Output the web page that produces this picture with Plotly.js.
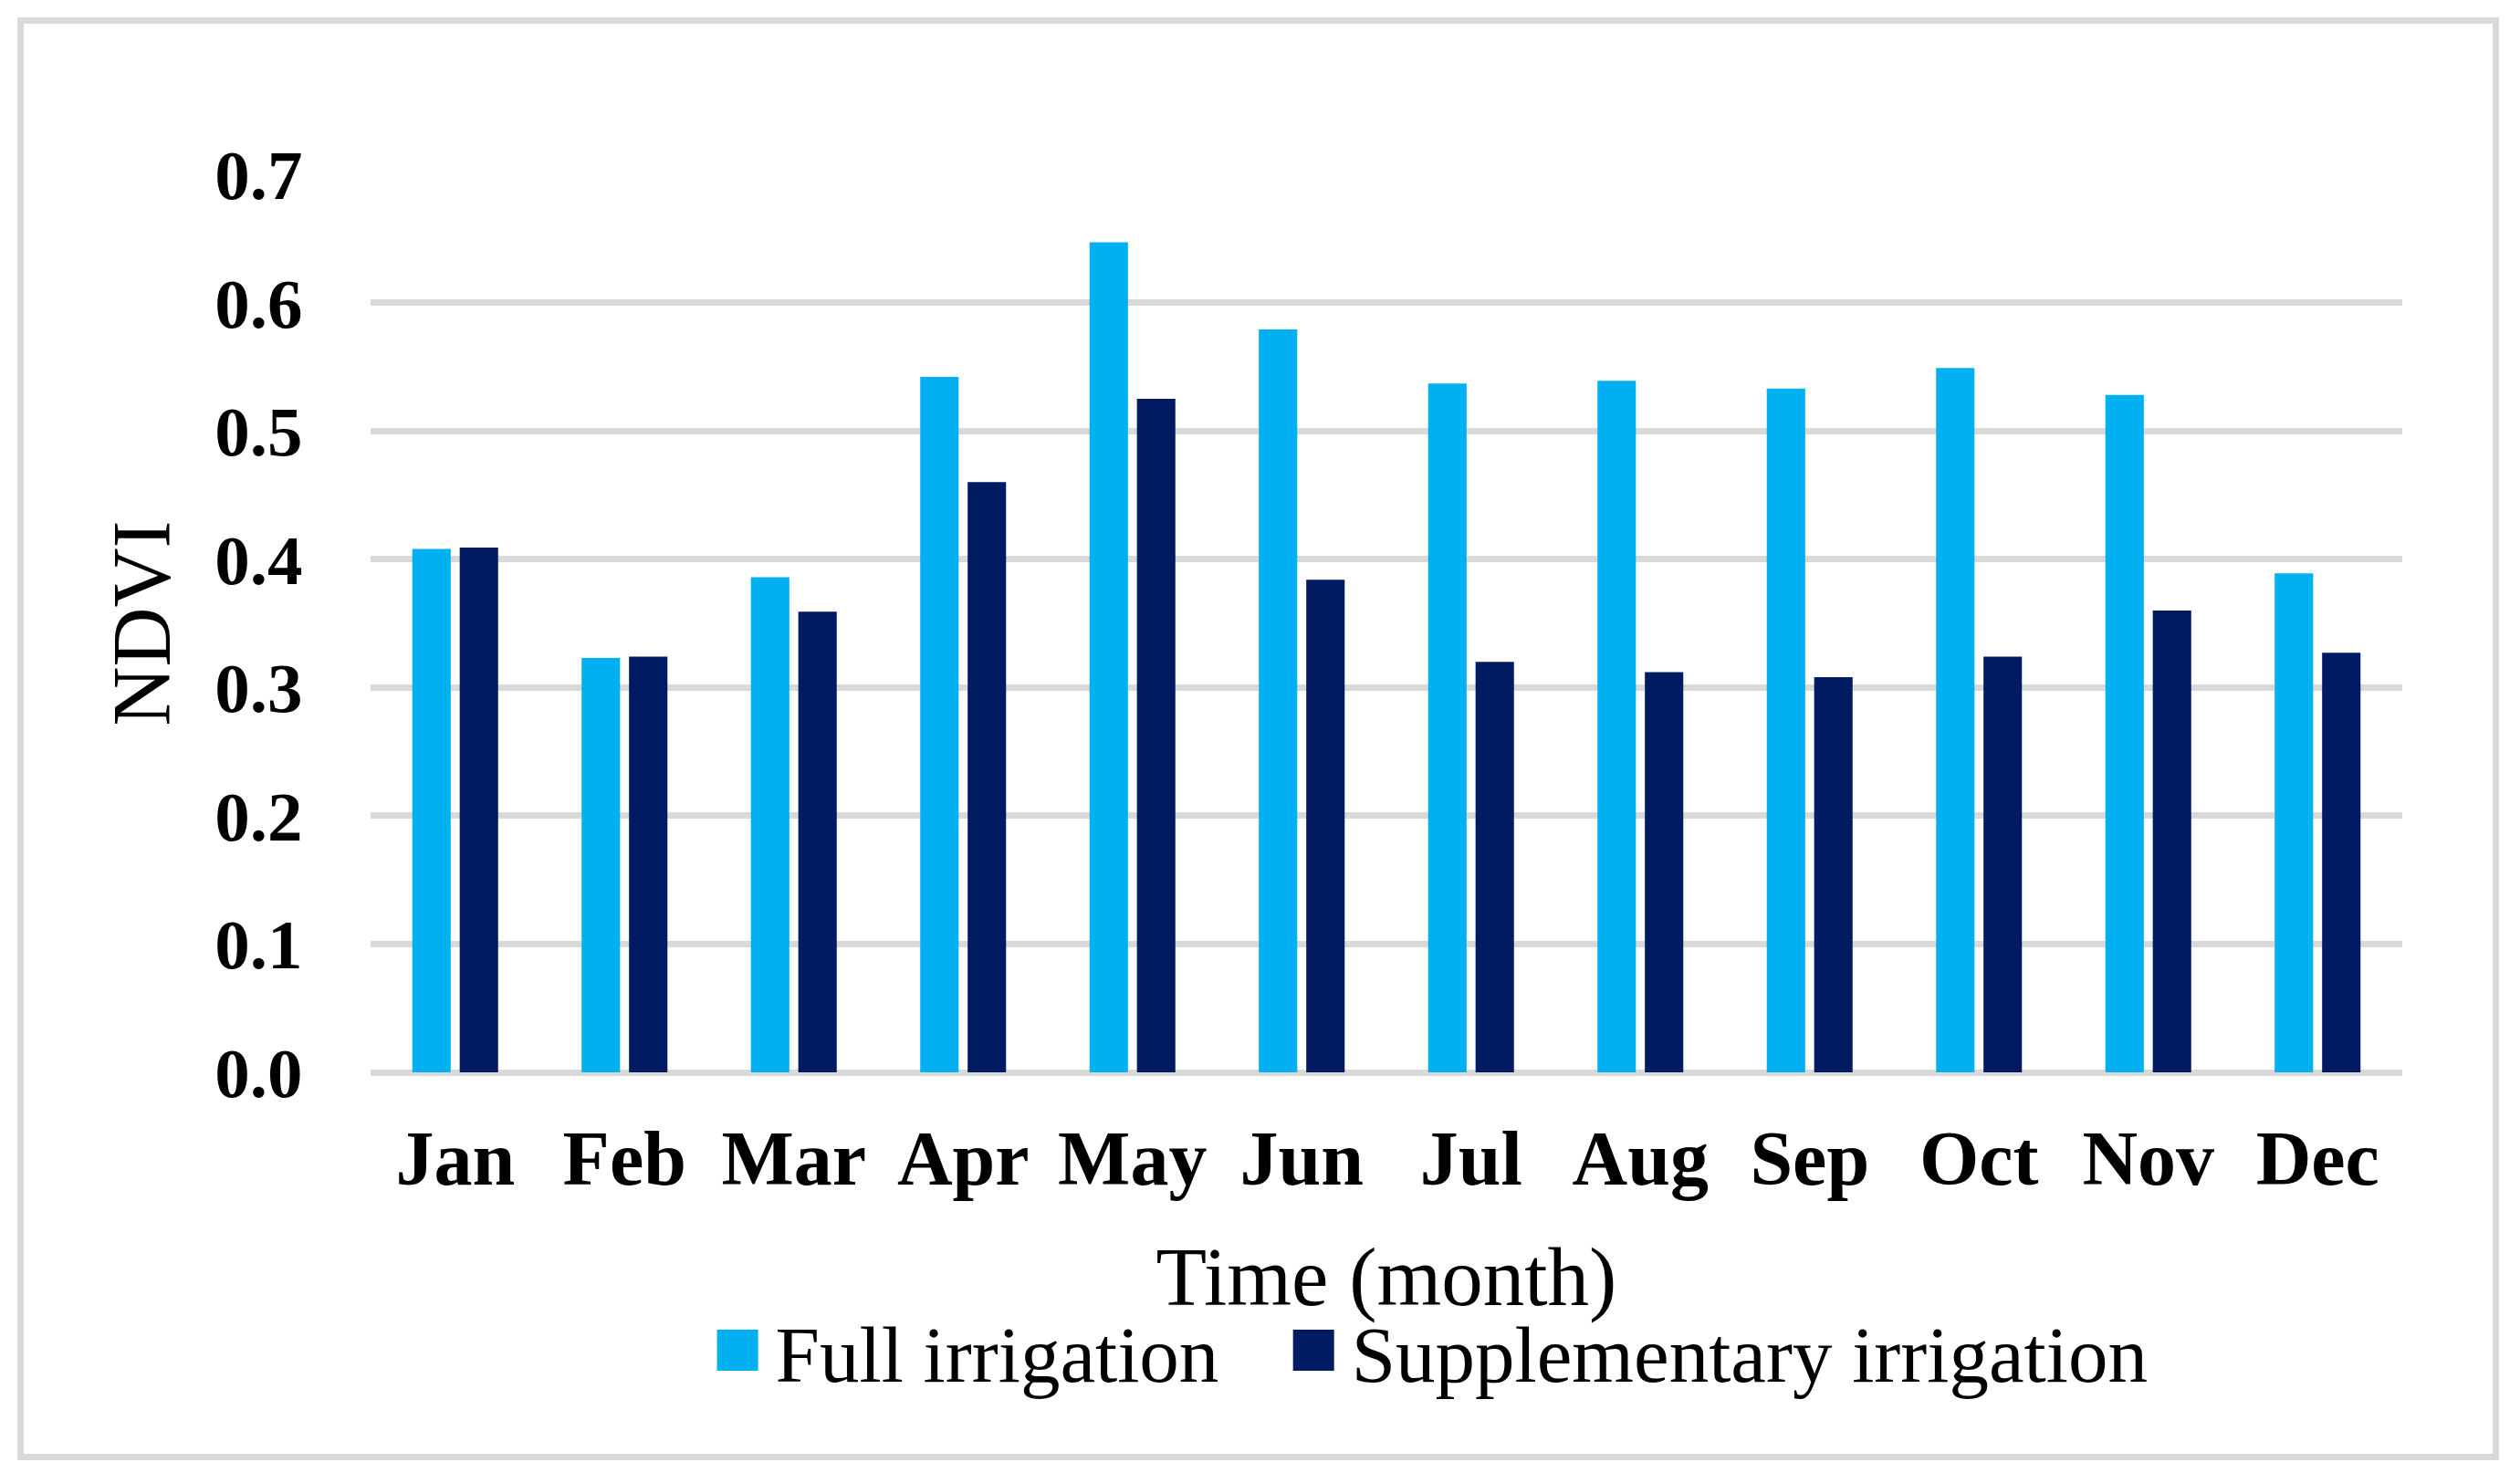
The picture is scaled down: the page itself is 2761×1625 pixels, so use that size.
<!DOCTYPE html>
<html>
<head>
<meta charset="utf-8">
<script src="https://cdn.plot.ly/plotly-3.0.1.min.js"></script>
<style>
  html, body { margin: 0; padding: 0; background: #fff; }
  #wrap { position: relative; width: 2761px; height: 1625px; }
  #chart { position: absolute; left: 0; top: 0; width: 2761px; height: 1625px; }
  #frame { position: absolute; left: 19px; top: 19px; width: 2719px; height: 1581px;
           box-sizing: border-box; border: 7px solid #d9d9d9; pointer-events: none; }
</style>
</head>
<body>
<div id="wrap"><div id="chart"></div><div id="frame"></div></div>
<script>
const months = ['Jan','Feb','Mar','Apr','May','Jun','Jul','Aug','Sep','Oct','Nov','Dec'];
const fullIrrigation = [0.408, 0.323, 0.386, 0.542, 0.647, 0.579, 0.537, 0.539, 0.533, 0.549, 0.528, 0.389];
const supplementaryIrrigation = [0.409, 0.324, 0.359, 0.460, 0.525, 0.384, 0.320, 0.312, 0.308, 0.324, 0.360, 0.327];
const seriesNames = ['Full irrigation', 'Supplementary irrigation'];
const yTicks = [0.0, 0.1, 0.2, 0.3, 0.4, 0.5, 0.6, 0.7];

const FONT = 'Liberation Serif, Times New Roman, serif';

const traces = [
  { type: 'bar', name: seriesNames[0], x: months, y: fullIrrigation, legend: 'legend',
    marker: { color: '#00b0f0', line: { width: 0 } }, hoverinfo: 'x+y' },
  { type: 'bar', name: seriesNames[1], x: months, y: supplementaryIrrigation, legend: 'legend2',
    marker: { color: '#001b61', line: { width: 0 } }, hoverinfo: 'x+y' }
];

const legendBase = {
  orientation: 'h', xanchor: 'left', y: -0.31, yanchor: 'middle',
  font: { family: FONT, size: 87, color: '#000' },
  itemwidth: 73, bgcolor: 'rgba(0,0,0,0)', borderwidth: 0
};

const layout = {
  width: 2761, height: 1625,
  margin: { l: 406, r: 129, t: 191, b: 450, pad: 0 },
  paper_bgcolor: '#ffffff', plot_bgcolor: '#ffffff',
  font: { family: FONT, color: '#000000' },
  barmode: 'group', bargap: 0.44, bargroupgap: 0.19,
  showlegend: true,
  legend: Object.assign({}, legendBase, { x: 0.162 }),
  legend2: Object.assign({}, legendBase, { x: 0.4455 }),
  xaxis: {
    type: 'category',
    showgrid: false, showline: false, zeroline: false,
    ticks: 'outside', ticklen: 21, tickcolor: 'rgba(0,0,0,0)',
    tickfont: { family: FONT, size: 84, weight: 'bold', color: '#000' },
    title: { text: 'Time (month)', font: { family: FONT, size: 91, color: '#000' }, standoff: 51 },
    automargin: false, fixedrange: true
  },
  yaxis: {
    range: [0, 0.7], tickvals: yTicks, tickformat: '.1f',
    showgrid: true, gridcolor: '#d9d9d9', gridwidth: 7,
    zeroline: true, zerolinecolor: '#d9d9d9', zerolinewidth: 7,
    showline: false,
    ticks: 'outside', ticklen: 58, tickcolor: 'rgba(0,0,0,0)',
    tickfont: { family: FONT, size: 77, weight: 'bold', color: '#000' },
    title: { text: 'NDVI', font: { family: FONT, size: 90, color: '#000' }, standoff: 18 },
    automargin: false, fixedrange: true
  }
};

Plotly.newPlot('chart', traces, layout, { staticPlot: true, displayModeBar: false }).then(function () {
  document.querySelectorAll('#chart .legendpoints path').forEach(function (p) {
    const t = p.getAttribute('transform') || '';
    p.setAttribute('transform', t + ' scale(3.75)');
  });
});
</script>
</body>
</html>
